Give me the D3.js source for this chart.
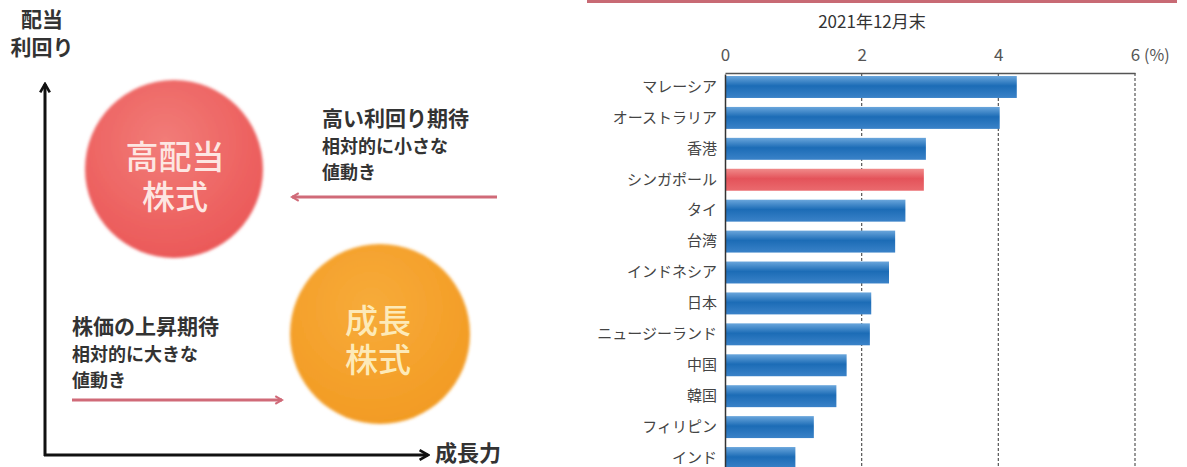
<!DOCTYPE html>
<html>
<head>
<meta charset="utf-8">
<script src="https://cdn.jsdelivr.net/npm/d3@7"></script>
<style>
  body { margin: 0; background: #fff; }
  text { font-family: "Noto Sans CJK JP", sans-serif; }
</style>
</head>
<body>
<div id="container"></div>
<script>
// bar chart data (dividend yield, end of Dec 2021)
const countries = ['マレーシア', 'オーストラリア', '香港', 'シンガポール', 'タイ', '台湾',
  'インドネシア', '日本', 'ニュージーランド', '中国', '韓国', 'フィリピン', 'インド'];
const yields = [4.27, 4.02, 2.94, 2.91, 2.64, 2.49, 2.40, 2.14, 2.12, 1.78, 1.63, 1.30, 1.03];
const highlight = 'シンガポール';
const xTicks = [0, 2, 4, 6];
const chartTitle = '2021年12月末';

// concept diagram texts
const yAxisLabel = ['配当', '利回り'];
const xAxisLabel = '成長力';
const highDivLabel = ['高配当', '株式'];
const growthLabel = ['成長', '株式'];
const highDivNote = ['高い利回り期待', '相対的に小さな', '値動き'];
const growthNote = ['株価の上昇期待', '相対的に大きな', '値動き'];

const W = 1187, H = 467;
const svg = d3.select('#container').append('svg')
  .attr('width', W)
  .attr('height', H);

const defs = svg.append('defs');

function barGrad(id, top, mid, bottom) {
  const g = defs.append('linearGradient').attr('id', id)
    .attr('x1', 0).attr('y1', 0).attr('x2', 0).attr('y2', 1);
  g.append('stop').attr('offset', '0%').attr('stop-color', top);
  g.append('stop').attr('offset', '45%').attr('stop-color', mid);
  g.append('stop').attr('offset', '100%').attr('stop-color', bottom);
}
barGrad('blueBar', '#6aa6dc', '#1c6cb6', '#3a82c8');
barGrad('redBar', '#f08a8a', '#e4535a', '#ea6a6e');

const soft = defs.append('filter').attr('id', 'soft')
  .attr('x', '-10%').attr('y', '-10%').attr('width', '120%').attr('height', '120%');
soft.append('feGaussianBlur').attr('stdDeviation', 1.4);

const redCircle = defs.append('radialGradient').attr('id', 'redCircle')
  .attr('cx', '45%').attr('cy', '35%').attr('r', '70%');
redCircle.append('stop').attr('offset', '0%').attr('stop-color', '#f27c78');
redCircle.append('stop').attr('offset', '100%').attr('stop-color', '#ea5656');

const orangeCircle = defs.append('radialGradient').attr('id', 'orangeCircle')
  .attr('cx', '45%').attr('cy', '35%').attr('r', '70%');
orangeCircle.append('stop').attr('offset', '0%').attr('stop-color', '#f7ab3a');
orangeCircle.append('stop').attr('offset', '100%').attr('stop-color', '#f29a22');

['arrowBlack', 'arrowPink'].forEach((id, k) => {
  defs.append('marker').attr('id', id)
    .attr('viewBox', '0 0 10 10').attr('refX', 8).attr('refY', 5)
    .attr('markerWidth', k ? 3.2 : 4).attr('markerHeight', k ? 3.2 : 4)
    .attr('orient', 'auto')
    .append('path')
    .attr('d', 'M1,1 L8,5 L1,9')
    .attr('fill', 'none')
    .attr('stroke', k ? '#d06a78' : '#111')
    .attr('stroke-width', 2.2);
});

// ---------- left: concept diagram ----------
const left = svg.append('g');

left.append('line')
  .attr('x1', 45).attr('y1', 456).attr('x2', 45).attr('y2', 84)
  .attr('stroke', '#111').attr('stroke-width', 3)
  .attr('marker-end', 'url(#arrowBlack)');
left.append('line')
  .attr('x1', 44).attr('y1', 455).attr('x2', 428).attr('y2', 455)
  .attr('stroke', '#111').attr('stroke-width', 3)
  .attr('marker-end', 'url(#arrowBlack)');

// multi-line label as one text element with tspans
function block(g, lines, x, y, dy, size, fill, weight) {
  g.append('text')
    .attr('x', x).attr('y', y)
    .attr('text-anchor', 'middle')
    .attr('font-size', size).attr('font-weight', weight)
    .attr('fill', fill)
    .selectAll('tspan').data(lines).join('tspan')
    .attr('x', x)
    .attr('dy', (d, i) => i ? dy : 0)
    .text(d => d);
}

block(left, yAxisLabel, 42, 27, 28, 21, '#333', 700);

left.append('text')
  .attr('x', 435).attr('y', 461)
  .attr('font-size', 22).attr('font-weight', 700)
  .attr('fill', '#333')
  .text(xAxisLabel);

left.append('circle')
  .attr('cx', 174).attr('cy', 169).attr('r', 89)
  .attr('fill', 'url(#redCircle)').attr('filter', 'url(#soft)');
block(left, highDivLabel, 175, 169, 40, 33, '#fde6e2', 500);

left.append('circle')
  .attr('cx', 380).attr('cy', 334).attr('r', 90)
  .attr('fill', 'url(#orangeCircle)').attr('filter', 'url(#soft)');
block(left, growthLabel, 378, 333, 39, 33, '#fdeab8', 500);

function note(lines, x, y) {
  left.append('text')
    .attr('x', x).attr('y', y)
    .attr('font-weight', 700)
    .attr('fill', '#333')
    .selectAll('tspan').data(lines).join('tspan')
    .attr('x', x)
    .attr('dy', (d, i) => i === 0 ? 0 : (i === 1 ? 27 : 26))
    .attr('font-size', (d, i) => i === 0 ? 21 : 18)
    .text(d => d);
}
note(highDivNote, 322, 126);
note(growthNote, 72, 334);

left.append('line')
  .attr('x1', 497).attr('y1', 197).attr('x2', 292).attr('y2', 197)
  .attr('stroke', '#d06a78').attr('stroke-width', 3)
  .attr('marker-end', 'url(#arrowPink)');
left.append('line')
  .attr('x1', 72).attr('y1', 400).attr('x2', 282).attr('y2', 400)
  .attr('stroke', '#d06a78').attr('stroke-width', 3)
  .attr('marker-end', 'url(#arrowPink)');

// ---------- right: bar chart ----------
const xScale = d3.scaleLinear().domain([0, 6]).range([725, 1135]);
const yScale = d3.scaleBand().domain(countries).range([74, 471])
  .paddingInner(0.29).paddingOuter(0.065);

const right = svg.append('g');

// header rule
right.append('line')
  .attr('x1', 587).attr('x2', 1177).attr('y1', 1.5).attr('y2', 1.5)
  .attr('stroke', '#c86a74').attr('stroke-width', 3);

right.append('text')
  .attr('x', 872).attr('y', 28)
  .attr('text-anchor', 'middle')
  .attr('font-size', 17)
  .attr('fill', '#333')
  .text(chartTitle);

// gridlines
right.selectAll('.grid').data(xTicks.slice(1)).join('line')
  .attr('class', 'grid')
  .attr('x1', d => xScale(d)).attr('x2', d => xScale(d))
  .attr('y1', 73).attr('y2', H)
  .attr('stroke', '#555').attr('stroke-width', 1.2)
  .attr('stroke-dasharray', '3,2');

const xAxis = right.append('g')
  .attr('transform', 'translate(0,73)')
  .call(d3.axisTop(xScale).tickValues(xTicks).tickFormat(d3.format('d'))
    .tickSize(0).tickPadding(12));
xAxis.select('.domain').attr('stroke', '#555').attr('stroke-width', 1.5);
xAxis.selectAll('text')
  .attr('font-size', 17).attr('fill', '#555')
  .style('font-family', '"Noto Sans CJK JP", sans-serif');
right.append('text')
  .attr('x', xScale(6) + 9).attr('y', 61)
  .attr('font-size', 16).attr('fill', '#555')
  .text('(%)');

right.selectAll('.bar').data(countries).join('rect')
  .attr('class', 'bar')
  .attr('x', xScale(0) + 1)
  .attr('y', d => yScale(d))
  .attr('width', (d, i) => xScale(yields[i]) - xScale(0) - 1)
  .attr('height', yScale.bandwidth())
  .attr('fill', d => d === highlight ? 'url(#redBar)' : 'url(#blueBar)');

const yAxis = right.append('g')
  .attr('transform', `translate(${xScale(0)},0)`)
  .call(d3.axisLeft(yScale).tickSize(0).tickPadding(8));
yAxis.select('.domain').attr('stroke', '#333').attr('stroke-width', 1.5);
yAxis.selectAll('text')
  .attr('font-size', 15).attr('fill', '#444')
  .style('font-family', '"Noto Sans CJK JP", sans-serif');
</script>
</body>
</html>
